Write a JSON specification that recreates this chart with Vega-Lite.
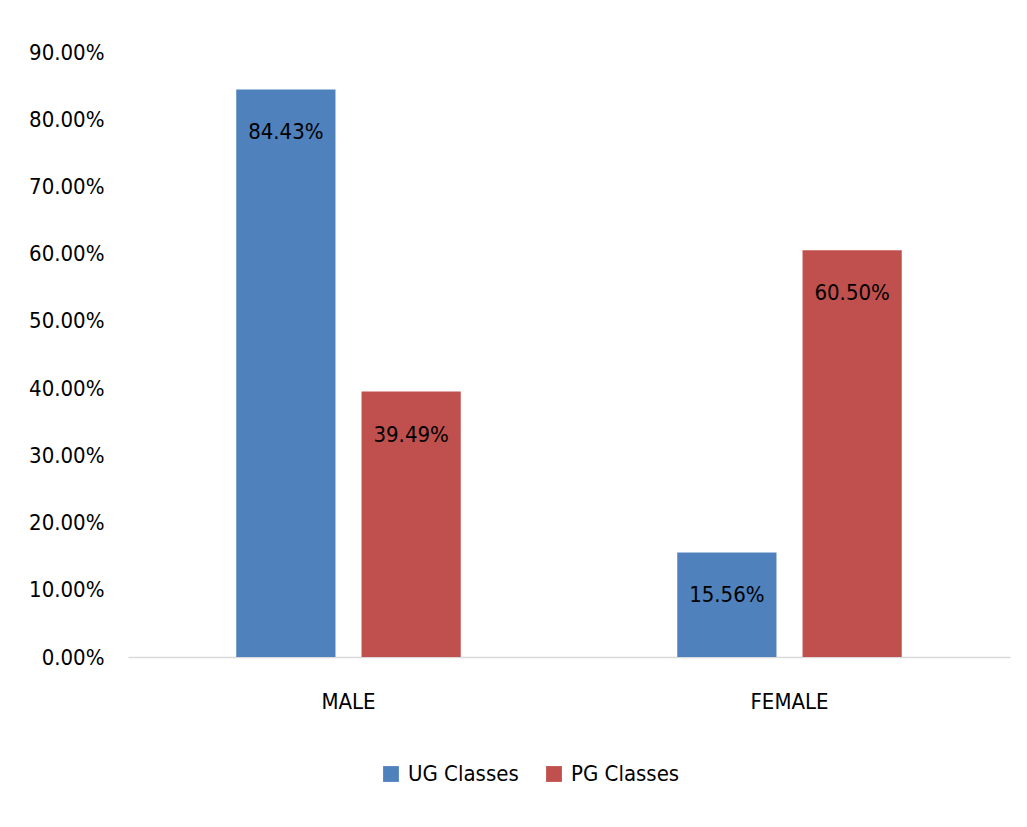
{
  "$schema": "https://vega.github.io/schema/vega-lite/v6.json",
  "autosize": "none",
  "width": 882,
  "height": 605,
  "padding": {"left": 128, "top": 52, "right": 17, "bottom": 170},
  "background": "white",
  "config": {
    "view": {"stroke": null},
    "font": "DejaVu Sans Condensed, Liberation Sans, sans-serif"
  },
  "data": {
    "values": [
      {"gender": "MALE", "class": "UG Classes", "value": 0.8443},
      {"gender": "MALE", "class": "PG Classes", "value": 0.3949},
      {"gender": "FEMALE", "class": "UG Classes", "value": 0.1556},
      {"gender": "FEMALE", "class": "PG Classes", "value": 0.6050}
    ]
  },
  "encoding": {
    "x": {
      "field": "gender", "type": "nominal", "sort": ["MALE", "FEMALE"],
      "scale": {"paddingInner": 0, "paddingOuter": 0},
      "axis": {"title": null, "labelAngle": 0, "ticks": false, "domainColor": "#d9d9d9", "domainWidth": 1.5, "labelFontSize": 22, "labelColor": "#000000", "labelPadding": 34, "labelFont": "DejaVu Sans Condensed, Liberation Sans, sans-serif"}
    },
    "xOffset": {
      "field": "class", "type": "nominal", "sort": ["UG Classes", "PG Classes"],
      "scale": {"paddingInner": 0.208, "paddingOuter": 0.864}
    },
    "y": {
      "field": "value", "type": "quantitative",
      "scale": {"domain": [0, 0.9]},
      "axis": {"title": null, "format": ".2%", "values": [0, 0.1, 0.2, 0.3, 0.4, 0.5, 0.6, 0.7, 0.8, 0.9], "labelOverlap": false, "labelFlush": false, "labelBound": false, "grid": false, "ticks": false, "domain": false, "labelFontSize": 22, "labelColor": "#000000", "labelPadding": 24, "labelFont": "DejaVu Sans Condensed, Liberation Sans, sans-serif"}
    }
  },
  "layer": [
    {
      "mark": {"type": "bar"},
      "encoding": {
        "color": {
          "field": "class", "type": "nominal",
          "sort": ["UG Classes", "PG Classes"],
          "scale": {"domain": ["UG Classes", "PG Classes"], "range": ["#4F81BD", "#C0504D"]},
          "legend": {"title": null, "orient": "none", "direction": "horizontal", "legendX": 252, "legendY": 711, "symbolType": "square", "symbolSize": 250, "labelFontSize": 22, "labelColor": "#000000", "labelFont": "DejaVu Sans Condensed, Liberation Sans, sans-serif", "columnPadding": 24, "labelOffset": 6}
        }
      }
    },
    {
      "mark": {"type": "text", "baseline": "middle", "dy": 43, "fontSize": 22, "color": "#000000", "font": "DejaVu Sans Condensed, Liberation Sans, sans-serif"},
      "encoding": {
        "text": {"field": "value", "type": "quantitative", "format": ".2%"}
      }
    }
  ]
}
